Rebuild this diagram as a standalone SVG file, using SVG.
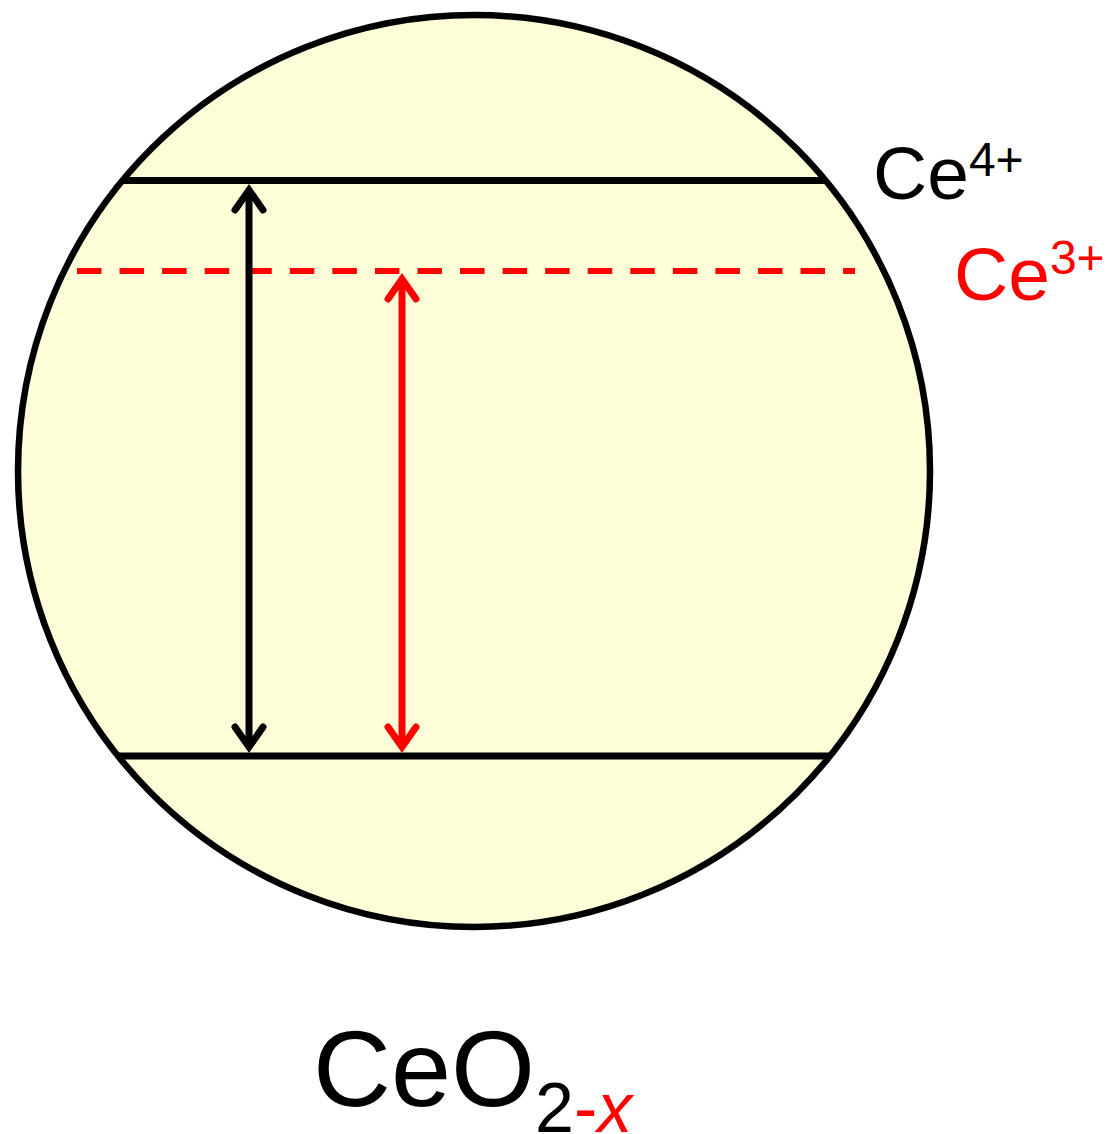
<svg xmlns="http://www.w3.org/2000/svg" width="1108" height="1134" viewBox="0 0 1108 1134">
<style>
.lbl{font-family:"Liberation Sans",Arial,sans-serif}
.blk{stroke:#000;fill:none;stroke-width:7}
.red{stroke:#FF0000;fill:none;stroke-width:7}
.head{stroke-linecap:round;stroke-linejoin:miter}
</style>
<rect width="1108" height="1134" fill="#fff"/>
<g id="particle">
<circle cx="474" cy="471" r="456" fill="#FDFDD8" stroke="#000" stroke-width="6.5"/>
</g>
<g id="levels">
<line class="blk" x1="123" y1="180.5" x2="826" y2="180.5"/>
<line class="blk" x1="118" y1="756" x2="829" y2="756"/>
<line x1="77" y1="271" x2="855" y2="271" stroke="#FF0000" stroke-width="6" stroke-dasharray="24.5 18.06"/>
</g>
<g id="connectors">
<line class="blk" x1="249" y1="190" x2="249" y2="747"/>
<path class="blk head" d="M235,210 L249,190 L263,210"/>
<path class="blk head" d="M235,727 L249,747 L263,727"/>
<line class="red" x1="402" y1="279" x2="402" y2="747"/>
<path class="red head" d="M388,299 L402,279 L416,299"/>
<path class="red head" d="M388,727 L402,747 L416,727"/>
</g>
<g id="label-ce4">
<text class="lbl" x="873" y="199" font-size="75" fill="#000">Ce<tspan font-size="48" y="176">4+</tspan></text>
</g>
<g id="label-ce3">
<text class="lbl" x="954" y="300" font-size="75" fill="#FF0000">Ce<tspan font-size="48" y="274">3+</tspan></text>
</g>
<g id="label-formula">
<text class="lbl" x="313" y="1106" font-size="108" fill="#000">CeO<tspan font-size="70" y="1132">2</tspan><tspan font-size="70" fill="#FF0000">-</tspan><tspan font-size="70" fill="#FF0000" font-style="italic">x</tspan></text>
</g>
</svg>
